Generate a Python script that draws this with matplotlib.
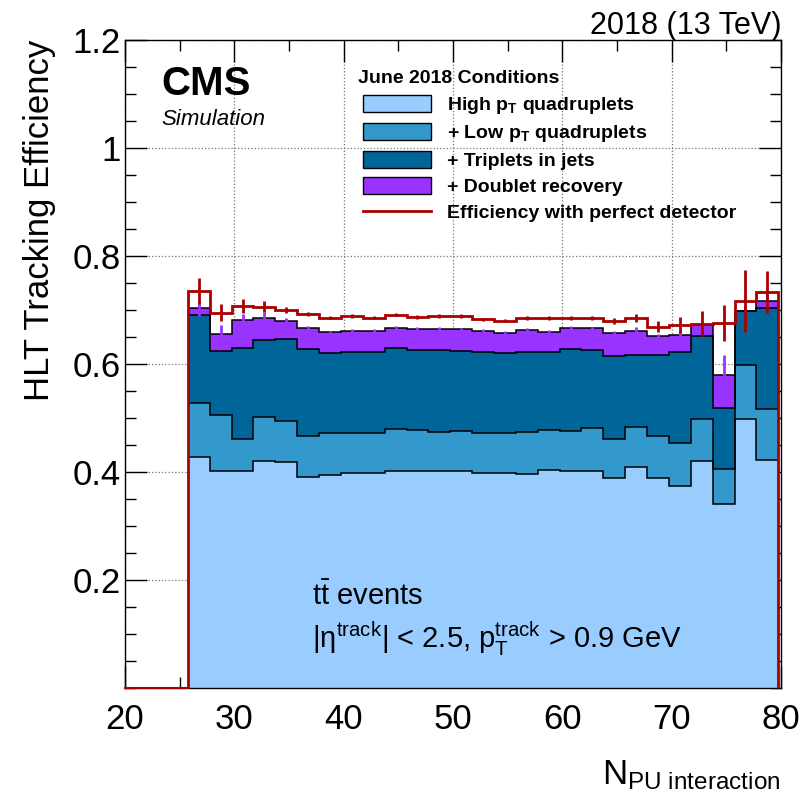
import numpy as np
import matplotlib
matplotlib.use("Agg")
import matplotlib.pyplot as plt
from matplotlib.patches import Patch
from matplotlib.lines import Line2D
from matplotlib.ticker import MultipleLocator, FixedLocator, FixedFormatter

plt.rcParams['font.family'] = ['Liberation Sans', 'DejaVu Sans']
plt.rcParams['mathtext.fontset'] = 'custom'
plt.rcParams['mathtext.rm'] = 'Liberation Sans'
plt.rcParams['mathtext.it'] = 'Liberation Sans:italic'
plt.rcParams['mathtext.bf'] = 'Liberation Sans:bold'

# bins of N_PU (width 2)
bin_lo = 25.75
bin_w = 2.0

# cumulative efficiencies per bin
high_pt_quads = [0.428, 0.402, 0.402, 0.420, 0.418, 0.390, 0.394, 0.398, 0.398, 0.402,
                 0.402, 0.402, 0.402, 0.399, 0.399, 0.397, 0.404, 0.402, 0.402, 0.388,
                 0.409, 0.388, 0.374, 0.420, 0.340, 0.499, 0.422]
low_pt_quads = [0.527, 0.506, 0.461, 0.501, 0.494, 0.467, 0.473, 0.473, 0.472, 0.479,
                0.477, 0.475, 0.476, 0.473, 0.473, 0.474, 0.477, 0.476, 0.481, 0.462,
                0.483, 0.467, 0.454, 0.498, 0.405, 0.599, 0.516]
triplets_jets = [0.691, 0.625, 0.629, 0.644, 0.647, 0.628, 0.621, 0.622, 0.622, 0.630,
                 0.626, 0.626, 0.625, 0.623, 0.621, 0.623, 0.623, 0.627, 0.626, 0.615,
                 0.617, 0.617, 0.623, 0.652, 0.519, 0.698, 0.703]
doublet_rec = [0.704, 0.655, 0.681, 0.686, 0.680, 0.666, 0.659, 0.662, 0.662, 0.667,
               0.665, 0.665, 0.664, 0.661, 0.658, 0.663, 0.660, 0.667, 0.666, 0.657,
               0.662, 0.651, 0.654, 0.672, 0.580, 0.698, 0.717]
doublet_err = [0.015, 0.018, 0.012, 0.010, 0.006, 0.004, 0.003, 0.003, 0.003, 0.003,
               0.003, 0.003, 0.003, 0.003, 0.003, 0.003, 0.003, 0.003, 0.003, 0.004,
               0.006, 0.004, 0.005, 0.006, 0.036, 0.010, 0.010]
perfect = [0.736, 0.695, 0.707, 0.706, 0.700, 0.692, 0.686, 0.689, 0.686, 0.691,
           0.687, 0.689, 0.689, 0.683, 0.680, 0.685, 0.685, 0.685, 0.685, 0.680,
           0.685, 0.669, 0.672, 0.675, 0.676, 0.717, 0.734]
perfect_err = [0.024, 0.016, 0.013, 0.010, 0.006, 0.004, 0.003, 0.003, 0.003, 0.003,
               0.003, 0.003, 0.003, 0.003, 0.003, 0.003, 0.003, 0.003, 0.003, 0.005,
               0.007, 0.010, 0.015, 0.023, 0.033, 0.057, 0.039]

labels = ["High p$_\\mathbf{T}$ quadruplets", "+ Low p$_\\mathbf{T}$ quadruplets",
          "+ Triplets in jets", "+ Doublet recovery", "Efficiency with perfect detector"]
colors = ['#99ccff', '#3399cc', '#006699', '#9933ff']
red = '#aa0000'

n = len(perfect)
edges = bin_lo + bin_w * np.arange(n + 1)
centers = 0.5 * (edges[:-1] + edges[1:])

fig = plt.figure(figsize=(8.06, 7.97), dpi=100)
ax = fig.add_axes([125/806, 1 - 688/797, 656/806, 648/797])

layers = [high_pt_quads, low_pt_quads, triplets_jets, doublet_rec]
# draw from the top layer down so lower layers cover
for vals, c in reversed(list(zip(layers, colors))):
    ax.stairs(vals, edges, baseline=0, fill=True, color=c, zorder=2)
for vals in layers:
    ax.stairs(vals, edges, baseline=None, fill=False, color='black', lw=1.1, zorder=3)

ax.errorbar(centers, doublet_rec, yerr=doublet_err, fmt='none', ecolor='#9933ff',
            elinewidth=2, zorder=3)

ax.stairs(perfect, edges, baseline=0, fill=False, color=red, lw=2, zorder=6, clip_on=False)
ax.plot([20, bin_lo], [0, 0], color=red, lw=1.5, zorder=6, clip_on=False)
ax.errorbar(centers, perfect, yerr=perfect_err, fmt='none', ecolor=red, elinewidth=2, zorder=4)

ax.set_xlim(20, 80)
ax.set_ylim(0, 1.2)
ax.xaxis.set_major_locator(MultipleLocator(10))
ax.xaxis.set_minor_locator(MultipleLocator(5))
yt = [0.2, 0.4, 0.6, 0.8, 1.0, 1.2]
ax.yaxis.set_major_locator(FixedLocator(yt))
ax.yaxis.set_major_formatter(FixedFormatter(['0.2', '0.4', '0.6', '0.8', '1', '1.2']))
ax.yaxis.set_minor_locator(MultipleLocator(0.05))
ax.tick_params(which='both', direction='in', top=True, right=True, labelsize=25, width=1)
ax.tick_params(which='major', length=16)
ax.tick_params(which='minor', length=8)
ax.tick_params(axis='x', which='major', pad=11)
ax.tick_params(axis='y', which='major', pad=3)
for s in ax.spines.values():
    s.set_linewidth(1)
    s.set_zorder(5)

ax.grid(True, which='major', linestyle=':', color='#777777', lw=0.9, zorder=0)
ax.set_axisbelow(True)

ax.set_ylabel('HLT Tracking Efficiency', fontsize=25, loc='top', labelpad=12)
ax.set_xlabel('N$_{\\mathrm{PU\\ interaction}}$', fontsize=25, loc='right', labelpad=16)

fig.text(781/806, 1 - 34/797, '2018 (13 TeV)', fontsize=22, ha='right', va='baseline')
fig.text(161/806, 1 - 95/797, 'CMS', fontsize=29, fontweight='bold', va='baseline')
fig.text(161/806, 1 - 125/797, 'Simulation', fontsize=16, style='italic', va='baseline')
fig.text(312/806, 1 - 605/797, 't$\\bar{\\mathrm{t}}$ events', fontsize=21, va='baseline')
fig.text(312/806, 1 - 648/797,
         '|$\\mathrm{\\eta}^{\\mathrm{track}}$| < 2.5, p$_{\\mathrm{T}}^{\\mathrm{track}}$ > 0.9 GeV',
         fontsize=21, va='baseline')

fig.text(358/806, 1 - 83/797, 'June 2018 Conditions', fontsize=14, fontweight='bold',
         va='baseline')
handles = [Patch(facecolor=c, edgecolor='black', lw=1) for c in colors]
handles.append(Line2D([0], [0], color=red, lw=2))
ax.legend(handles, labels, loc='upper left',
          bbox_to_anchor=(363/806, 1 - 95/797), bbox_transform=fig.transFigure,
          frameon=False, prop={'weight': 'bold', 'size': 14},
          handlelength=3.5, handleheight=0.95, handletextpad=0.8,
          labelspacing=0.36, borderpad=0, borderaxespad=0)

fig.savefig('out.png', dpi=100)
